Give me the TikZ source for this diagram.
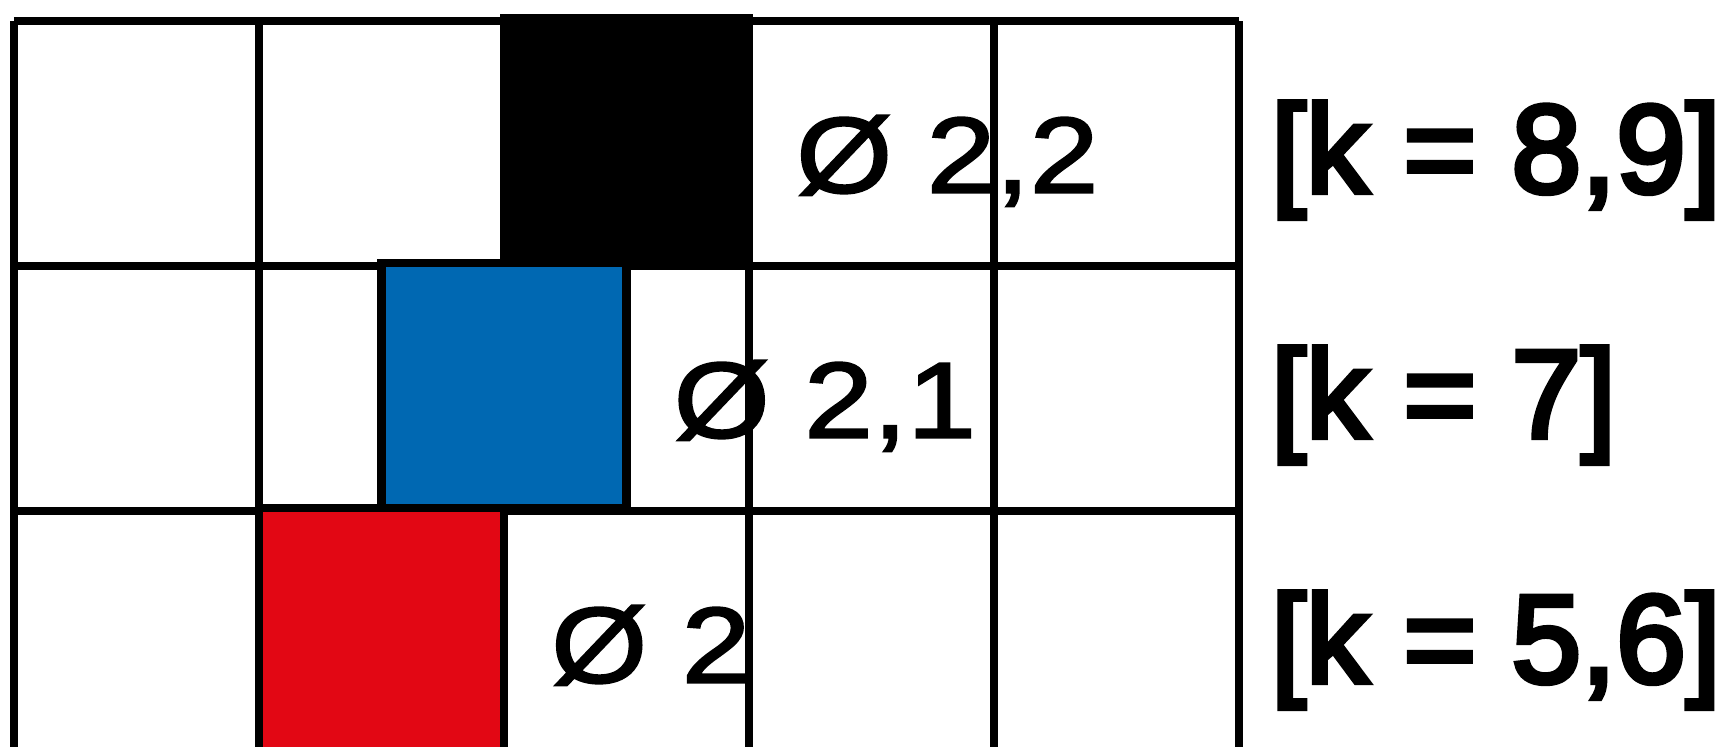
\documentclass[tikz,border=0pt]{standalone}
\usepackage{fontspec}
\setmainfont{Liberation Sans}
\newfontfamily\diafont[FakeStretch=1.15, FakeBold=2]{Liberation Sans}
\newfontfamily\kfont[FakeBold=4]{Liberation Sans}
\definecolor{cobalt}{RGB}{0,104,178}
\definecolor{signal}{RGB}{226,7,20}

\begin{document}
\begin{tikzpicture}[x=2.45cm, y=2.45cm, line width=2.3pt,
  sq/.style={draw=black, line width=2.3pt},
  dia/.style={anchor=base west, inner sep=0pt, font=\diafont\fontsize{30.6}{36}\selectfont},
  klab/.style={anchor=base west, inner sep=0pt, font=\kfont\fontsize{35.7}{42}\selectfont}]
  \useasboundingbox (-0.0571,0.037) rectangle (6.996,3.0857);
  % grid, 5 columns, bottom row cut off
  \foreach \c in {0,...,5}
    \draw (\c,0) -- (\c,3);
  \foreach \r in {1,2,3}
    \draw (0,\r) -- (5,\r);
  % squares (each a hair above its cell), diameter and k labels
  \foreach \x/\y/\col/\dia/\kk [count=\i] in {2/2/black/{2,2}/{8,9}, 1.5/1/cobalt/{2,1}/7, 1/0/signal/2/{5,6}}{
    \draw[sq, fill=\col] (\x,\y+0.014) rectangle (\x+1,\y+1.014);
    \node[dia] (d\i) at (\x+1.176,\y+0.30) {Ø \dia};
    \node[klab] (k\i) at (5.114,\y+0.30) {[k = \kk]};
  }
\end{tikzpicture}
\end{document}
